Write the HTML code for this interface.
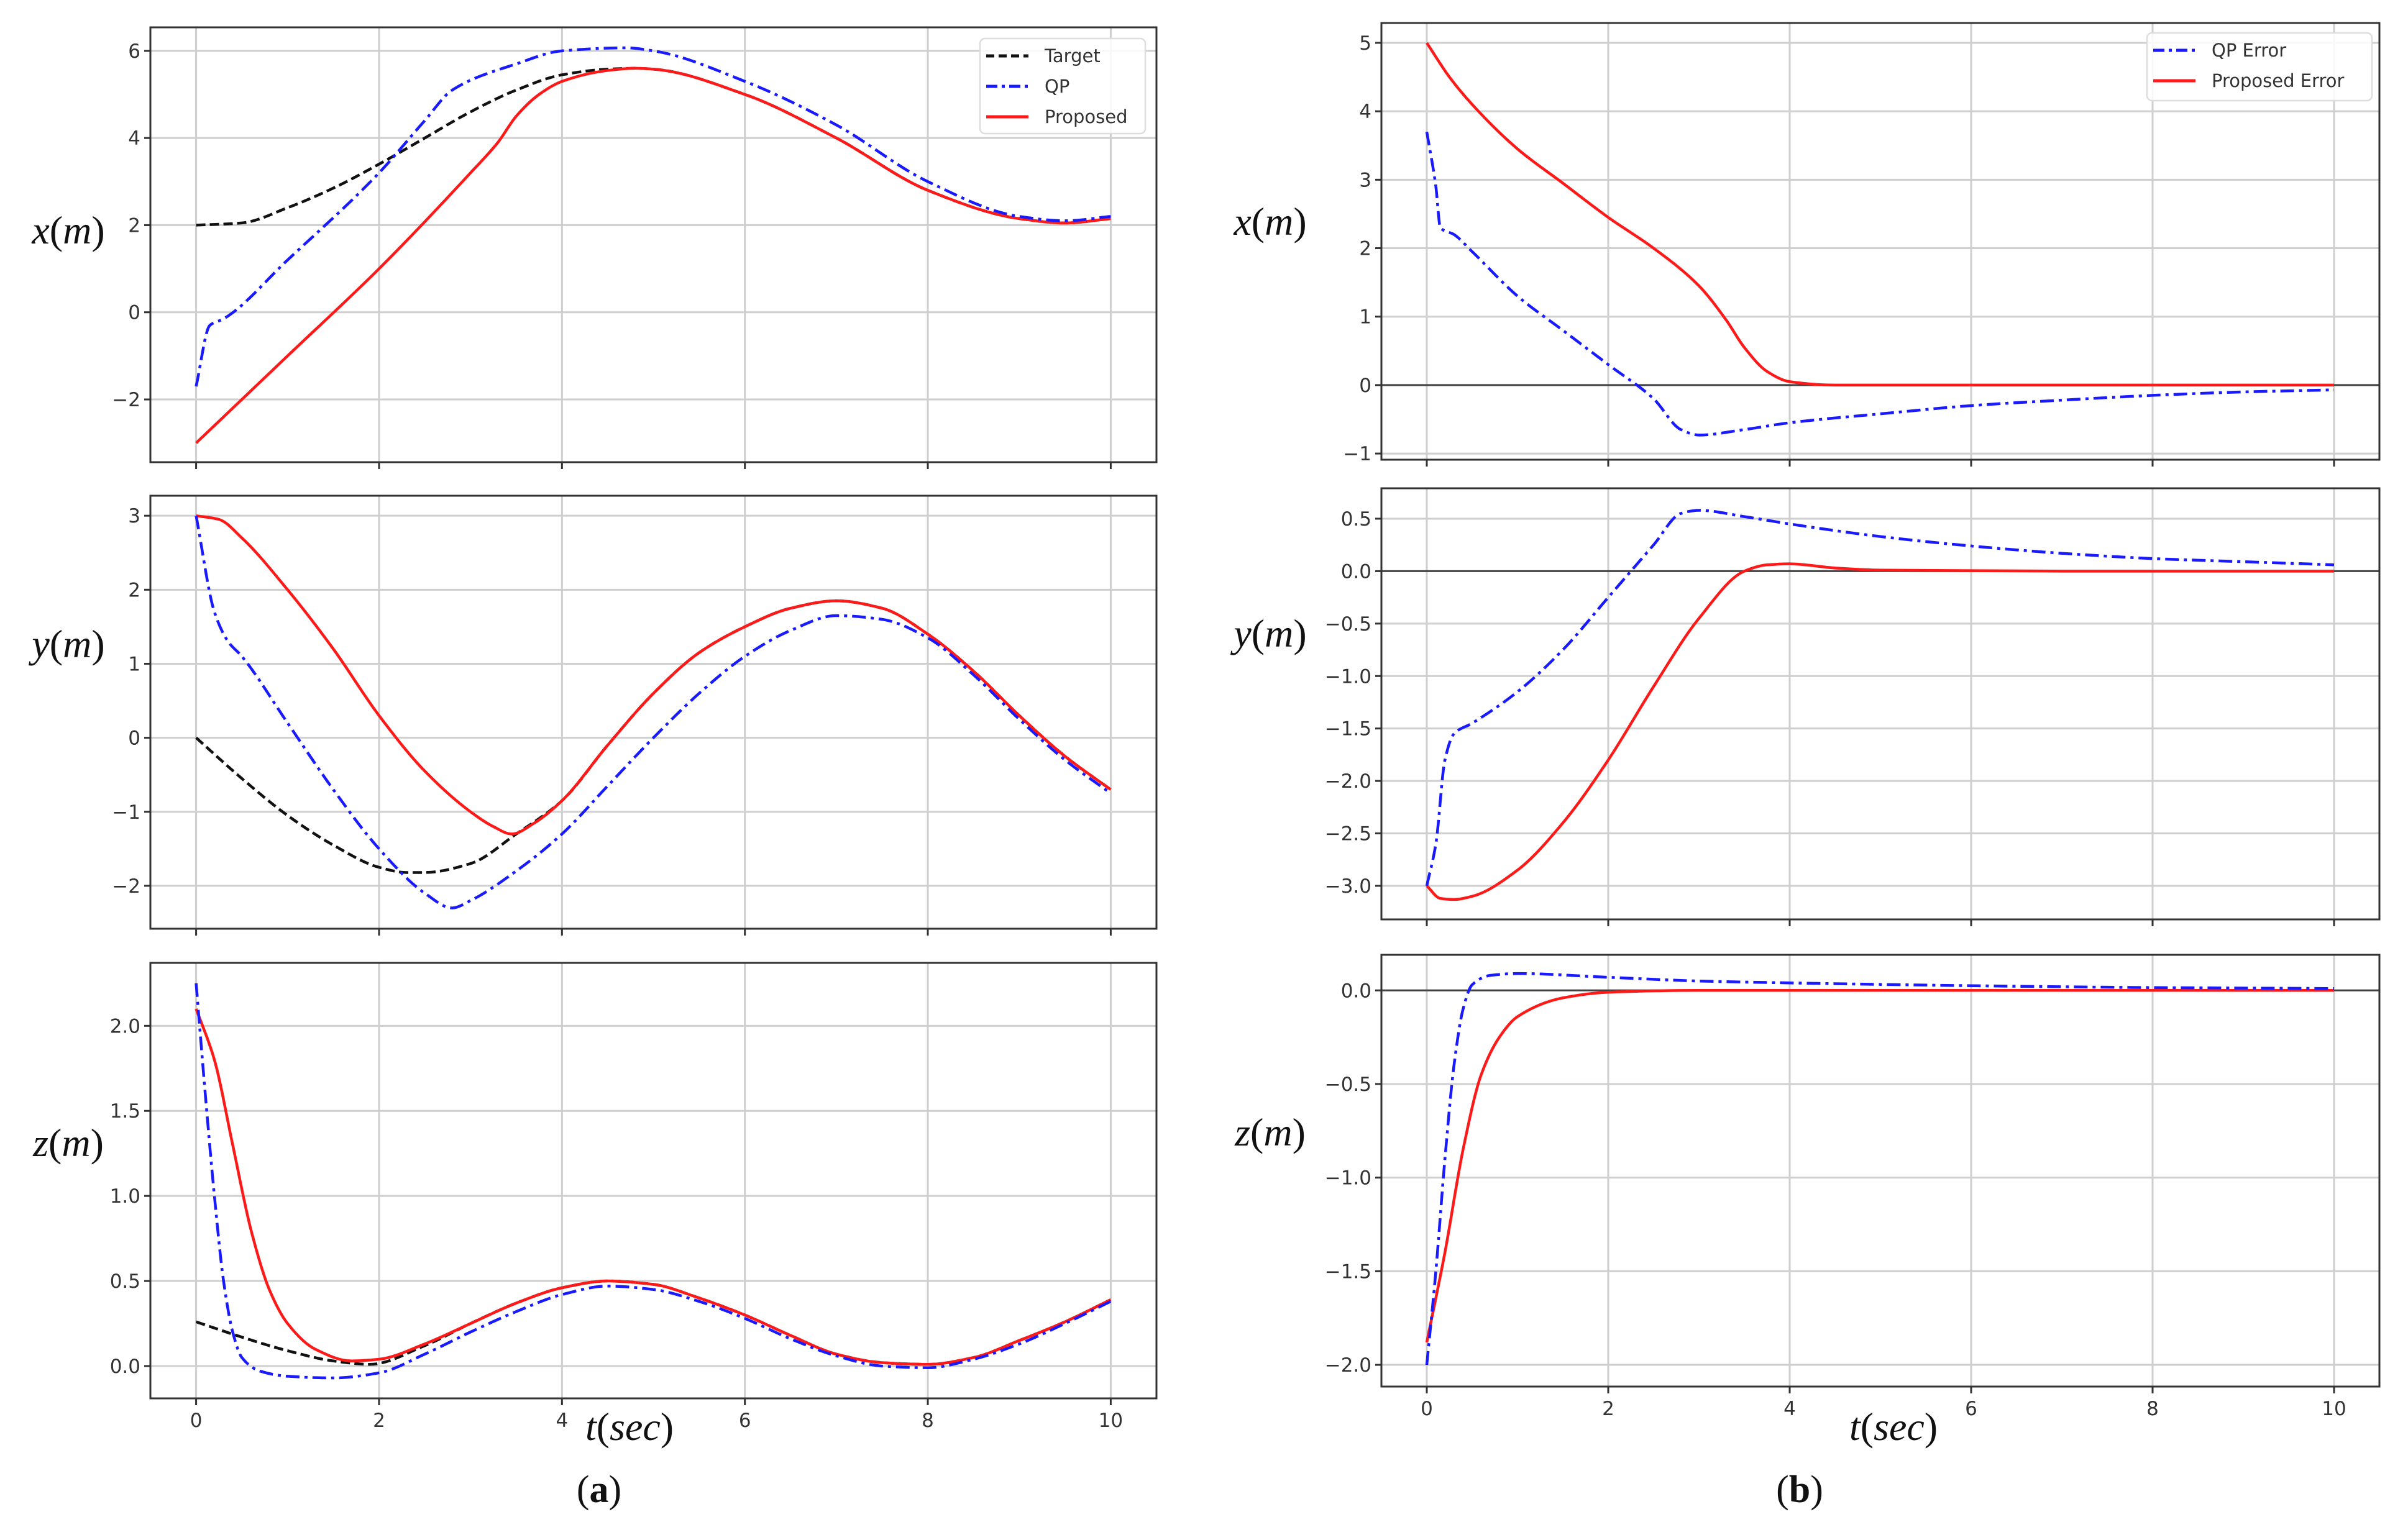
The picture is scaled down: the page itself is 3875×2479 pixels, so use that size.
<!DOCTYPE html>
<html><head><meta charset="utf-8">
<style>
html,body{margin:0;padding:0;background:#fff;}
svg{display:block;}
text{font-family:"DejaVu Sans","Liberation Sans",sans-serif;}
.serif{font-family:"Liberation Serif",serif;}
</style></head>
<body>
<svg id="fig" xmlns="http://www.w3.org/2000/svg" width="3875" height="2479" viewBox="0 0 3875 2479">
<rect width="3875" height="2479" fill="#fff"/>
</svg>
<script>
// ---------- DATA ----------
const xTicks = [0,2,4,6,8,10];
// Left column (a)
const axTargetT = [0,0.5,1,1.5,2,2.5,3,3.5,4,4.5,4.8,5,6,7,8,9,9.5,10];
const axTargetV = [2,2.05,2.4,2.85,3.4,4.0,4.6,5.1,5.45,5.58,5.6,5.58,5.0,4.0,2.8,2.15,2.05,2.15];
const axQpT = [0,0.15,0.3,1,2,2.5,2.8,3.5,4,4.7,5,6,7,8,9,9.5,10];
const axQpV = [-1.7,-0.3,-0.15,1.2,3.2,4.4,5.1,5.7,6.0,6.07,6.0,5.3,4.3,3.0,2.2,2.1,2.2];
const axPropT = [0,1,2,3,3.3,3.5,3.75,4,4.5,4.8,5,6,7,8,9,9.5,10];
const axPropV = [-3,-1,1.0,3.2,3.9,4.5,5.0,5.3,5.55,5.6,5.58,5.0,4.0,2.8,2.15,2.05,2.15];
const axYTicks = [-2,0,2,4,6];

const ayTargetT = [0,0.5,1,1.5,2,2.3,2.5,3,3.5,4,4.5,5,5.5,6,6.5,7,7.5,8,8.5,9,9.5,10];
const ayTargetV = [0,-0.55,-1.05,-1.45,-1.75,-1.82,-1.82,-1.7,-1.3,-0.85,-0.1,0.6,1.15,1.5,1.75,1.85,1.75,1.4,0.9,0.3,-0.25,-0.7];
const ayQpT = [0,0.2,0.35,0.5,1,1.5,2,2.5,2.8,3,3.5,4,4.5,5,5.5,6,6.5,7,7.5,8,8.5,9,9.5,10];
const ayQpV = [3.0,1.7,1.3,1.1,0.2,-0.7,-1.5,-2.1,-2.3,-2.2,-1.8,-1.3,-0.65,0.0,0.6,1.1,1.45,1.65,1.6,1.35,0.85,0.25,-0.3,-0.75];
const ayPropT = [0,0.25,0.5,1,1.5,2,2.5,3,3.25,3.45,3.7,4,4.5,5,5.5,6,6.5,7,7.5,8,8.5,9,9.5,10];
const ayPropV = [3.0,2.95,2.7,2.0,1.2,0.3,-0.45,-1.0,-1.2,-1.3,-1.15,-0.85,-0.1,0.6,1.15,1.5,1.75,1.85,1.75,1.4,0.9,0.3,-0.25,-0.7];
const ayYTicks = [-2,-1,0,1,2,3];

const azTargetT = [0,0.5,1,1.5,1.9,2.5,3,3.5,4,4.5,5,5.5,6,6.5,7,7.5,8,8.5,9,9.5,10];
const azTargetV = [0.26,0.17,0.09,0.03,0.01,0.12,0.25,0.37,0.46,0.5,0.48,0.4,0.3,0.18,0.07,0.02,0.01,0.05,0.15,0.26,0.39];
const azQpT = [0,0.1,0.2,0.3,0.4,0.5,0.7,1,1.5,2,2.5,3,3.5,4,4.5,5,5.5,6,6.5,7,7.5,8,8.5,9,9.5,10];
const azQpV = [2.25,1.6,1.0,0.5,0.2,0.05,-0.03,-0.06,-0.07,-0.04,0.07,0.2,0.32,0.42,0.47,0.45,0.38,0.28,0.16,0.06,0.0,-0.01,0.04,0.13,0.25,0.38];
const azPropT = [0,0.2,0.4,0.6,0.8,1,1.3,1.7,2,2.5,3,3.5,4,4.5,5,5.5,6,6.5,7,7.5,8,8.5,9,9.5,10];
const azPropV = [2.1,1.8,1.3,0.8,0.45,0.25,0.1,0.03,0.04,0.13,0.25,0.37,0.46,0.5,0.48,0.4,0.3,0.18,0.07,0.02,0.01,0.05,0.15,0.26,0.39];
const azYTicks = [0,0.5,1.0,1.5,2.0];

// Right column (b)
const bxQpT = [0,0.1,0.15,0.3,0.5,1,1.5,2,2.5,2.8,3,3.5,4,5,6,7,8,9,10];
const bxQpV = [3.7,2.9,2.3,2.2,1.95,1.3,0.8,0.3,-0.2,-0.65,-0.73,-0.65,-0.55,-0.42,-0.3,-0.22,-0.15,-0.1,-0.07];
const bxPropT = [0,0.25,0.5,1,1.5,2,2.5,3,3.3,3.5,3.75,4,4.5,6,8,10];
const bxPropV = [5.0,4.5,4.1,3.45,2.95,2.45,2.0,1.45,0.95,0.55,0.2,0.05,0.0,0,0,0];
const bxYTicks = [-1,0,1,2,3,4,5];

const byQpT = [0,0.1,0.2,0.3,0.5,1,1.5,2,2.5,2.8,3,3.5,4,5,6,7,8,9,10];
const byQpV = [-3.0,-2.6,-1.8,-1.55,-1.45,-1.15,-0.75,-0.25,0.25,0.55,0.58,0.52,0.45,0.33,0.24,0.17,0.12,0.09,0.06];
const byPropT = [0,0.15,0.3,0.5,1,1.5,2,2.5,3,3.5,3.75,4,4.5,5,7,10];
const byPropV = [-3.0,-3.12,-3.13,-3.1,-2.85,-2.4,-1.8,-1.1,-0.45,0.0,0.06,0.07,0.03,0.01,0,0];
const byYTicks = [-3.0,-2.5,-2.0,-1.5,-1.0,-0.5,0.0,0.5];

const bzQpT = [0,0.1,0.2,0.3,0.4,0.5,0.7,1,2,3,4,6,8,10];
const bzQpV = [-2.0,-1.5,-0.9,-0.4,-0.1,0.03,0.08,0.09,0.07,0.05,0.04,0.025,0.015,0.01];
const bzPropT = [0,0.2,0.4,0.6,0.8,1,1.5,2,3,5,10];
const bzPropV = [-1.88,-1.4,-0.85,-0.45,-0.25,-0.14,-0.04,-0.01,0.0,0,0];
const bzYTicks = [-2.0,-1.5,-1.0,-0.5,0.0];

// ---------- DRAW ----------
const NS = "http://www.w3.org/2000/svg";
const svg = document.getElementById('fig');
function mk(tag, attrs, parent){
  const e = document.createElementNS(NS, tag);
  for (const k in attrs) e.setAttribute(k, attrs[k]);
  (parent||svg).appendChild(e);
  return e;
}
function fmt(v, dec){ const s = v.toFixed(dec); return s.replace('-', '\u2212'); }

function panel(name, L, R, T, B, xmin, xmax, ymin, ymax, yTicks, dec, zeroLine, showXLabels){
  const g = mk('g', {});
  
  
  const sx = v => L + (v - xmin) / (xmax - xmin) * (R - L);
  const sy = v => B - (v - ymin) / (ymax - ymin) * (B - T);
  xTicks.forEach(t => {
    const l = mk('line', {x1:sx(t), x2:sx(t), y1:T, y2:B, stroke:'#cfcfcf', 'stroke-width':3}, g);
    
    
  });
  yTicks.forEach(v => {
    const l = mk('line', {x1:L, x2:R, y1:sy(v), y2:sy(v), stroke:'#cfcfcf', 'stroke-width':3}, g);
    
    
    const tk = mk('line', {x1:L-10, x2:L, y1:sy(v), y2:sy(v), stroke:'#333', 'stroke-width':3}, g);
    
    
    const tx = mk('text', {x:L-16, y:sy(v)+11, 'text-anchor':'end', 'font-size':31, fill:'#333'}, g);
    
    
    tx.textContent = fmt(v, dec);
  });
  xTicks.forEach(t => {
    const tk = mk('line', {x1:sx(t), x2:sx(t), y1:B, y2:B+11, stroke:'#333', 'stroke-width':3}, g);
    
    
    if (showXLabels){
      const tx = mk('text', {x:sx(t), y:B+46, 'text-anchor':'middle', 'font-size':31, fill:'#333'}, g);
      
      
      tx.textContent = String(t);
    }
  });
  if (zeroLine){
    const z = mk('line', {x1:L, x2:R, y1:sy(0), y2:sy(0), stroke:'#444', 'stroke-width':3}, g);
    
    
  }
  const clip = 'clip-' + name;
  const cp = mk('clipPath', {id:clip}, g);
  mk('rect', {x:L, y:T, width:R-L, height:B-T}, cp);
  const frame = mk('rect', {x:L, y:T, width:R-L, height:B-T, fill:'none', stroke:'#333', 'stroke-width':3}, g);
  
  
  return {g, sx, sy, clip};
}

// monotone cubic (Fritsch-Carlson) in pixel space
function curve(p, ts, vs, color, dash, name){
  const X = ts.map(t=>p.sx(t)), Y = vs.map(v=>p.sy(v));
  const n = X.length;
  const dx = [], m = [];
  for (let i=0;i<n-1;i++){ dx.push(X[i+1]-X[i]); m.push((Y[i+1]-Y[i])/(X[i+1]-X[i])); }
  const tg = new Array(n);
  tg[0] = m[0]; tg[n-1] = m[n-2];
  for (let i=1;i<n-1;i++){
    if (m[i-1]*m[i] <= 0) tg[i] = 0;
    else {
      const w1 = 2*dx[i]+dx[i-1], w2 = dx[i]+2*dx[i-1];
      tg[i] = (w1+w2)/(w1/m[i-1]+w2/m[i]);
    }
  }
  let d = 'M' + X[0] + ',' + Y[0];
  for (let i=0;i<n-1;i++){
    const h = dx[i]/3;
    d += ` C${X[i]+h},${Y[i]+tg[i]*h} ${X[i+1]-h},${Y[i+1]-tg[i+1]*h} ${X[i+1]},${Y[i+1]}`;
  }
  const a = {d, fill:'none', stroke:color, 'stroke-width':4.5, 'stroke-linejoin':'round', 'clip-path':`url(#${p.clip})`};
  if (dash) a['stroke-dasharray'] = dash;
  const e = mk('path', a, p.g);
  
  
}
const DASH = '15,7', DASHDOT = '22,8,5,8';

const XL = [-0.5,10.5];
const p1 = panel('panel-a-x', 242, 1861, 44, 744, XL[0], XL[1], -3.44, 6.54, axYTicks, 0, false, false);
curve(p1, axTargetT, axTargetV, '#111', DASH, 'target-line');
curve(p1, axPropT, axPropV, '#ff1a1a', null, 'proposed-line');
curve(p1, axQpT, axQpV, '#1a1aff', DASHDOT, 'qp-line');
const p2 = panel('panel-a-y', 242, 1861, 798, 1495, XL[0], XL[1], -2.58, 3.27, ayYTicks, 0, false, false);
curve(p2, ayTargetT, ayTargetV, '#111', DASH, 'target-line');
curve(p2, ayPropT, ayPropV, '#ff1a1a', null, 'proposed-line');
curve(p2, ayQpT, ayQpV, '#1a1aff', DASHDOT, 'qp-line');
const p3 = panel('panel-a-z', 242, 1861, 1550, 2251, XL[0], XL[1], -0.19, 2.37, azYTicks, 1, false, true);
curve(p3, azTargetT, azTargetV, '#111', DASH, 'target-line');
curve(p3, azPropT, azPropV, '#ff1a1a', null, 'proposed-line');
curve(p3, azQpT, azQpV, '#1a1aff', DASHDOT, 'qp-line');

const q1 = panel('panel-b-x', 2223, 3829, 37, 740, XL[0], XL[1], -1.09, 5.29, bxYTicks, 0, true, false);
curve(q1, bxPropT, bxPropV, '#ff1a1a', null, 'proposed-error-line');
curve(q1, bxQpT, bxQpV, '#1a1aff', DASHDOT, 'qp-error-line');
const q2 = panel('panel-b-y', 2223, 3829, 786, 1480, XL[0], XL[1], -3.32, 0.79, byYTicks, 1, true, false);
curve(q2, byPropT, byPropV, '#ff1a1a', null, 'proposed-error-line');
curve(q2, byQpT, byQpV, '#1a1aff', DASHDOT, 'qp-error-line');
const q3 = panel('panel-b-z', 2223, 3829, 1537, 2232, XL[0], XL[1], -2.116, 0.19, bzYTicks, 1, true, true);
curve(q3, bzPropT, bzPropV, '#ff1a1a', null, 'proposed-error-line');
curve(q3, bzQpT, bzQpV, '#1a1aff', DASHDOT, 'qp-error-line');

function legend(name, x, y, w, h, entries){
  const g = mk('g', {});
  
  
  mk('rect', {x, y, width:w, height:h, rx:8, fill:'#fff', 'fill-opacity':0.85, stroke:'#ddd', 'stroke-width':2.5}, g);
  entries.forEach((en,i)=>{
    const cy = y + 28 + i*49;
    const ln = mk('line', {x1:x+10, x2:x+78, y1:cy, y2:cy, stroke:en[1], 'stroke-width':5}, g);
    if (en[2]) ln.setAttribute('stroke-dasharray', en[2]);
    
    
    const t = mk('text', {x:x+104, y:cy+10, 'font-size':29, fill:'#333'}, g);
    
    
    t.textContent = en[0];
  });
}
legend('legend-a', 1577, 62, 266, 153, [['Target','#111','13,7'],['QP','#1a1aff','18,7,5,7'],['Proposed','#ff1a1a',null]]);
legend('legend-b', 3455, 53, 362, 109, [['QP Error','#1a1aff','18,7,5,7'],['Proposed Error','#ff1a1a',null]]);

function label(name, x, y, html, size){
  const t = mk('text', {x, y, 'font-size':size, 'text-anchor':'middle', 'class':'serif', fill:'#111'});
  
  
  t.innerHTML = html;
}
const ital = s => `<tspan font-style="italic">${s[0]}</tspan>(<tspan font-style="italic">${s[1]}</tspan>)`;
label('y-axis-title-a-x', 110, 392, ital(['x','m']), 64);
label('y-axis-title-a-y', 110, 1058, ital(['y','m']), 64);
label('y-axis-title-a-z', 110, 1861, ital(['z','m']), 64);
label('y-axis-title-b-x', 2044, 378, ital(['x','m']), 64);
label('y-axis-title-b-y', 2044, 1041, ital(['y','m']), 64);
label('y-axis-title-b-z', 2044, 1844, ital(['z','m']), 64);
label('x-axis-title-a', 1013, 2318, ital(['t','sec']), 64);
label('x-axis-title-b', 3047, 2318, ital(['t','sec']), 64);
label('caption-a', 964, 2418, '(<tspan font-weight="bold">a</tspan>)', 62);
label('caption-b', 2896, 2418, '(<tspan font-weight="bold">b</tspan>)', 62);
</script>
</body></html>
